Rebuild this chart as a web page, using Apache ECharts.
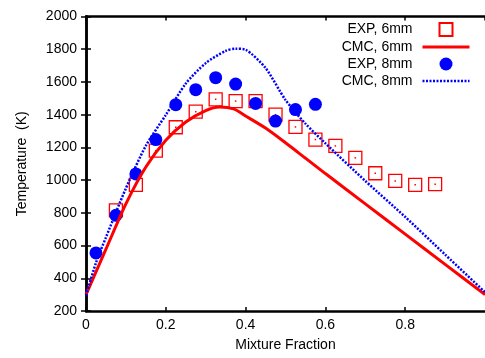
<!DOCTYPE html>
<html><head><meta charset="utf-8">
<script src="https://cdn.jsdelivr.net/npm/echarts@6/dist/echarts.min.js"></script>
<style>html,body{margin:0;padding:0;background:#fff}#c{width:485px;height:358px}</style>
</head><body><div id="c"></div>
<script>
// ---- data ----
const seriesNames = ['EXP, 6mm', 'CMC, 6mm', 'EXP, 8mm', 'CMC, 8mm'];

const xEXP6 = [0.075, 0.125, 0.175, 0.225, 0.275, 0.325, 0.375, 0.425, 0.475, 0.525, 0.575, 0.625, 0.675, 0.725, 0.775, 0.825, 0.875];
const yEXP6 = [815, 971, 1180, 1323, 1418, 1494, 1483, 1483, 1400, 1325, 1248, 1209, 1136, 1042, 995, 971, 975];

const xEXP8 = [0.025, 0.075, 0.125, 0.175, 0.225, 0.275, 0.325, 0.375, 0.425, 0.475, 0.525, 0.575];
const yEXP8 = [555, 785, 1038, 1248, 1461, 1553, 1626, 1587, 1469, 1361, 1431, 1463];

const xCMC6 = [0, 0.05, 0.1, 0.15, 0.2, 0.25, 0.3, 0.335, 0.37, 0.4, 0.45, 0.5, 0.55, 0.6, 0.7, 0.8, 0.9, 1.0];
const yCMC6 = [300, 578, 855, 1080, 1243, 1355, 1425, 1447, 1435, 1392, 1318, 1228, 1134, 1040, 855, 670, 485, 300];

const xCMC8 = [0, 0.025, 0.05, 0.1, 0.15, 0.2, 0.25, 0.3, 0.35, 0.375, 0.4, 0.45, 0.5, 0.55, 0.6, 0.7, 0.8, 0.9, 1.0];
const yCMC8 = [295, 495, 650, 950, 1210, 1398, 1590, 1715, 1790, 1803, 1797, 1685, 1490, 1345, 1225, 995, 775, 545, 315];

const xTicks = [0, 0.2, 0.4, 0.6, 0.8];
const yTicks = [200, 400, 600, 800, 1000, 1200, 1400, 1600, 1800, 2000];

// ---- chart ----
const zip = (xs, ys) => xs.map((x, i) => [x, ys[i]]);
const FONT = "'Liberation Sans', Arial, sans-serif";
const axisLine = { show: true, lineStyle: { color: '#000', width: 2.5 } };
const SQUARE = 'path://M0,0H10V10H0Z';
const HIDDEN_SYMBOL = { color: 'rgba(0,0,0,0)', borderWidth: 0, borderColor: 'rgba(0,0,0,0)' };

const chart = echarts.init(document.getElementById('c'), null, { renderer: 'canvas' });
chart.setOption({
  animation: false,
  backgroundColor: '#fff',
  grid: { left: 86, top: 16.5, width: 401, height: 294.5, containLabel: false },
  legend: {
    data: [
      { name: seriesNames[0], icon: SQUARE },
      { name: seriesNames[1], itemStyle: HIDDEN_SYMBOL, lineStyle: { width: 3 } },
      { name: seriesNames[2], icon: 'circle' },
      { name: seriesNames[3], itemStyle: HIDDEN_SYMBOL, lineStyle: { width: 2.5 } }
    ],
    orient: 'vertical',
    right: 9, top: 17,
    align: 'right',
    symbolKeepAspect: true,
    itemWidth: 47, itemHeight: 13, itemGap: 3,
    selectedMode: false,
    textStyle: { fontSize: 14, fontFamily: FONT, color: '#000', padding: [0, 5, 0, 0] }
  },
  xAxis: [{
    type: 'value', min: 0, max: 1, interval: 0.2, position: 'bottom',
    axisLine: axisLine,
    axisTick: { show: true, inside: true, length: 4, lineStyle: { color: '#000', width: 1.5 } },
    axisLabel: { showMaxLabel: false, margin: 7, fontSize: 14, fontFamily: FONT, color: '#000',
      formatter: v => (xTicks.indexOf(Math.round(v * 10) / 10) >= 0 ? String(Math.round(v * 10) / 10) : '') },
    splitLine: { show: false },
    name: 'Mixture Fraction', nameLocation: 'middle', nameGap: 27,
    nameTextStyle: { fontSize: 14, fontFamily: FONT, color: '#000' }
  }, {
    type: 'value', min: 0, max: 1, interval: 0.2, position: 'top',
    axisLine: axisLine,
    axisTick: { show: true, inside: true, length: 4, lineStyle: { color: '#000', width: 1.5 } },
    axisLabel: { show: false }, splitLine: { show: false }
  }],
  yAxis: [{
    type: 'value', min: 200, max: 2000, interval: 200, position: 'left',
    axisLine: axisLine,
    axisTick: { show: true, inside: true, length: 5, lineStyle: { color: '#000', width: 1.5 } },
    axisLabel: { margin: 9, fontSize: 14, fontFamily: FONT, color: '#000',
      formatter: v => (yTicks.indexOf(v) >= 0 ? String(v) : '') },
    splitLine: { show: false },
    name: 'Temperature  (K)', nameLocation: 'middle', nameGap: 57, nameRotate: 90,
    nameTextStyle: { fontSize: 14, fontFamily: FONT, color: '#000' }
  }, {
    type: 'value', min: 200, max: 2000, interval: 200, position: 'right',
    axisLine: axisLine,
    axisTick: { show: true, inside: true, length: 5, lineStyle: { color: '#000', width: 1.5 } },
    axisLabel: { show: false }, splitLine: { show: false }
  }],
  series: [{
    name: 'EXP, 6mm', type: 'scatter', data: zip(xEXP6, yEXP6),
    symbol: 'rect', symbolSize: 13,
    itemStyle: { color: 'rgba(255,255,255,0)', borderColor: '#ff0000', borderWidth: 1.3, opacity: 1 },
    emphasis: { disabled: true }
  }, {
    name: 'EXP, 6mm (centre)', type: 'scatter', data: zip(xEXP6, yEXP6),
    symbol: 'rect', symbolSize: 1.5, itemStyle: { color: '#ff0000', opacity: 1 }, silent: true,
    emphasis: { disabled: true }
  }, {
    name: 'CMC, 6mm', type: 'line', data: zip(xCMC6, yCMC6),
    symbol: 'none', smooth: 0.25,
    lineStyle: { color: '#ff0000', width: 3 }, itemStyle: { color: '#ff0000' },
    emphasis: { disabled: true }
  }, {
    name: 'EXP, 8mm', type: 'scatter', data: zip(xEXP8, yEXP8),
    symbol: 'circle', symbolSize: 13, itemStyle: { color: '#0000ff', opacity: 1 },
    emphasis: { disabled: true }
  }, {
    name: 'CMC, 8mm', type: 'line', data: zip(xCMC8, yCMC8),
    symbol: 'none', smooth: 0.25,
    lineStyle: { color: '#0000ff', width: 2.5, type: [2, 1.5] }, itemStyle: { color: '#0000ff' },
    emphasis: { disabled: true }
  }]
});
</script>
</body></html>
